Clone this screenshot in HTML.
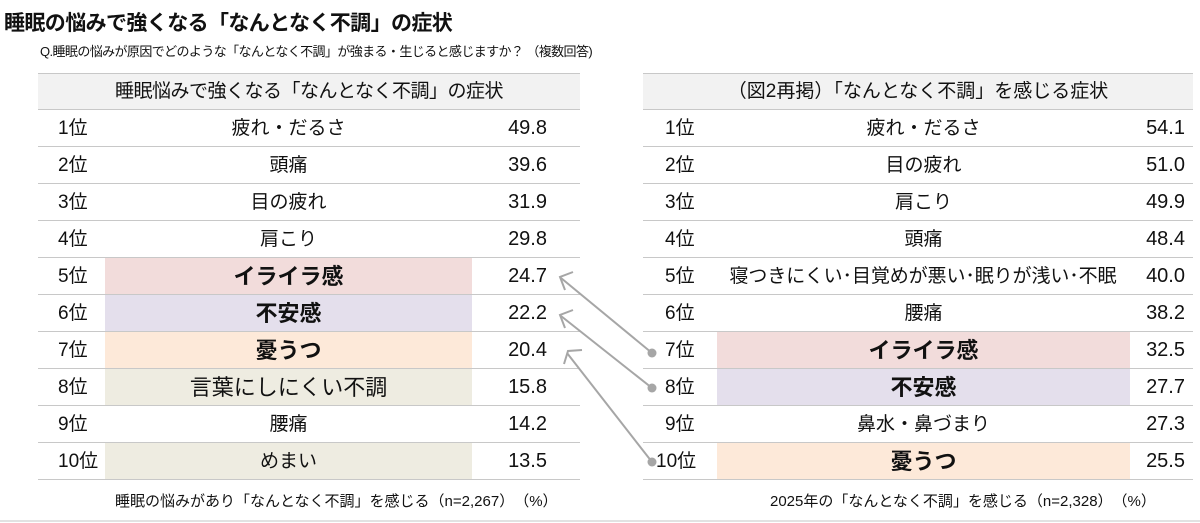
<!DOCTYPE html><html><head><meta charset="utf-8"><style>
*{margin:0;padding:0;box-sizing:border-box}
body{width:1200px;height:523px;background:#fff;position:relative;overflow:hidden;font-family:"Liberation Sans","Noto Sans CJK JP",sans-serif;color:#111}
.a{position:absolute;white-space:nowrap}
.row{position:absolute;height:37px;border-bottom:1.5px solid #c8c8c8;font-size:19px;line-height:37px;white-space:nowrap}
.row span{position:absolute;white-space:nowrap}
.b{font-weight:bold;font-size:22px}
</style></head><body>
<div class="a" style="left:4px;top:7px;font-size:21px;font-weight:bold;letter-spacing:-0.6px">睡眠の悩みで強くなる「なんとなく不調」の症状</div>
<div class="a" style="left:40px;top:41px;font-size:13px;letter-spacing:-0.6px">Q.睡眠の悩みが原因でどのような「なんとなく不調」が強まる・生じると感じますか？ （複数回答)</div>

<div class="a" style="left:38px;top:73px;width:542px;height:37px;background:#f2f2f2;border-top:1.5px solid #c8c8c8;border-bottom:1.5px solid #c8c8c8;text-align:center;font-size:19px;line-height:36px;letter-spacing:-0.5px">睡眠悩みで強くなる「なんとなく不調」の症状</div>
<div class="a" style="left:643px;top:73px;width:550px;height:37px;background:#f2f2f2;border-top:1.5px solid #c8c8c8;border-bottom:1.5px solid #c8c8c8;text-align:center;font-size:19px;line-height:36px">（図2再掲）「なんとなく不調」を感じる症状</div>

<div id="L"></div><div id="R"></div>
<script>
var L=[["1位","疲れ・だるさ","49.8",""],["2位","頭痛","39.6",""],["3位","目の疲れ","31.9",""],["4位","肩こり","29.8",""],["5位","イライラ感","24.7","#f2dcdb",1],["6位","不安感","22.2","#e4dfec",1],["7位","憂うつ","20.4","#fde9d9",1],["8位","言葉にしにくい不調","15.8","#eeece1"],["9位","腰痛","14.2",""],["10位","めまい","13.5","#eeece1"]];
var R=[["1位","疲れ・だるさ","54.1",""],["2位","目の疲れ","51.0",""],["3位","肩こり","49.9",""],["4位","頭痛","48.4",""],["5位","寝つきにくい･目覚めが悪い･眠りが浅い･不眠","40.0",""],["6位","腰痛","38.2",""],["7位","イライラ感","32.5","#f2dcdb",1],["8位","不安感","27.7","#e4dfec",1],["9位","鼻水・鼻づまり","27.3",""],["10位","憂うつ","25.5","#fde9d9",1]];
var h="";
L.forEach(function(r,i){var t=110+i*37;h+='<div class="row" style="left:38px;top:'+t+'px;width:542px"><span style="left:20px">'+r[0]+'</span>'+(r[3]?'<span style="left:67px;width:367px;height:36px;background:'+r[3]+'"></span>':'')+'<span class="'+(r[4]?'b':'')+'" style="left:67px;width:367px;text-align:center;'+(r[1].length>8?'font-size:22px':'')+'">'+r[1]+'</span><span style="right:33px;font-size:20px">'+r[2]+'</span></div>';});
R.forEach(function(r,i){var t=110+i*37;var ex=r[1].length>15?'font-size:19px;letter-spacing:-0.1px;left:60px;width:440px;':'left:74px;width:413px;';h+='<div class="row" style="left:643px;top:'+t+'px;width:550px"><span style="left:'+(r[0].length>2?13:22)+'px">'+r[0]+'</span>'+(r[3]?'<span style="left:74px;width:413px;height:36px;background:'+r[3]+'"></span>':'')+'<span class="'+(r[4]?'b':'')+'" style="'+ex+'text-align:center">'+r[1]+'</span><span style="right:8px;font-size:20px">'+r[2]+'</span></div>';});
document.getElementById("L").innerHTML=h;
</script>
<svg class="a" style="left:0;top:0" width="1200" height="523">
<g stroke="#a6a6a6" stroke-width="2" fill="none">
<line x1="652" y1="353" x2="561" y2="278"/><polyline points="573,272 560,277 565,290"/>
<line x1="652" y1="388" x2="561" y2="316"/><polyline points="573,310 560,315 565,328"/>
<line x1="652" y1="462" x2="567" y2="353"/><polyline points="582,350 568,351 564,364"/>
</g>
<g fill="#a6a6a6"><circle cx="652" cy="353" r="4.5"/><circle cx="652" cy="388" r="4.5"/><circle cx="652" cy="462" r="4.5"/></g>
<line x1="0" y1="521" x2="1200" y2="521" stroke="#d9d9d9" stroke-width="1.5"/>
</svg>
<div class="a" style="left:115px;top:490px;font-size:15px">睡眠の悩みがあり「なんとなく不調」を感じる（n=2,267）　（%）</div>
<div class="a" style="left:770px;top:490px;font-size:15px">2025年の「なんとなく不調」を感じる（n=2,328）　（%）</div>
</body></html>
